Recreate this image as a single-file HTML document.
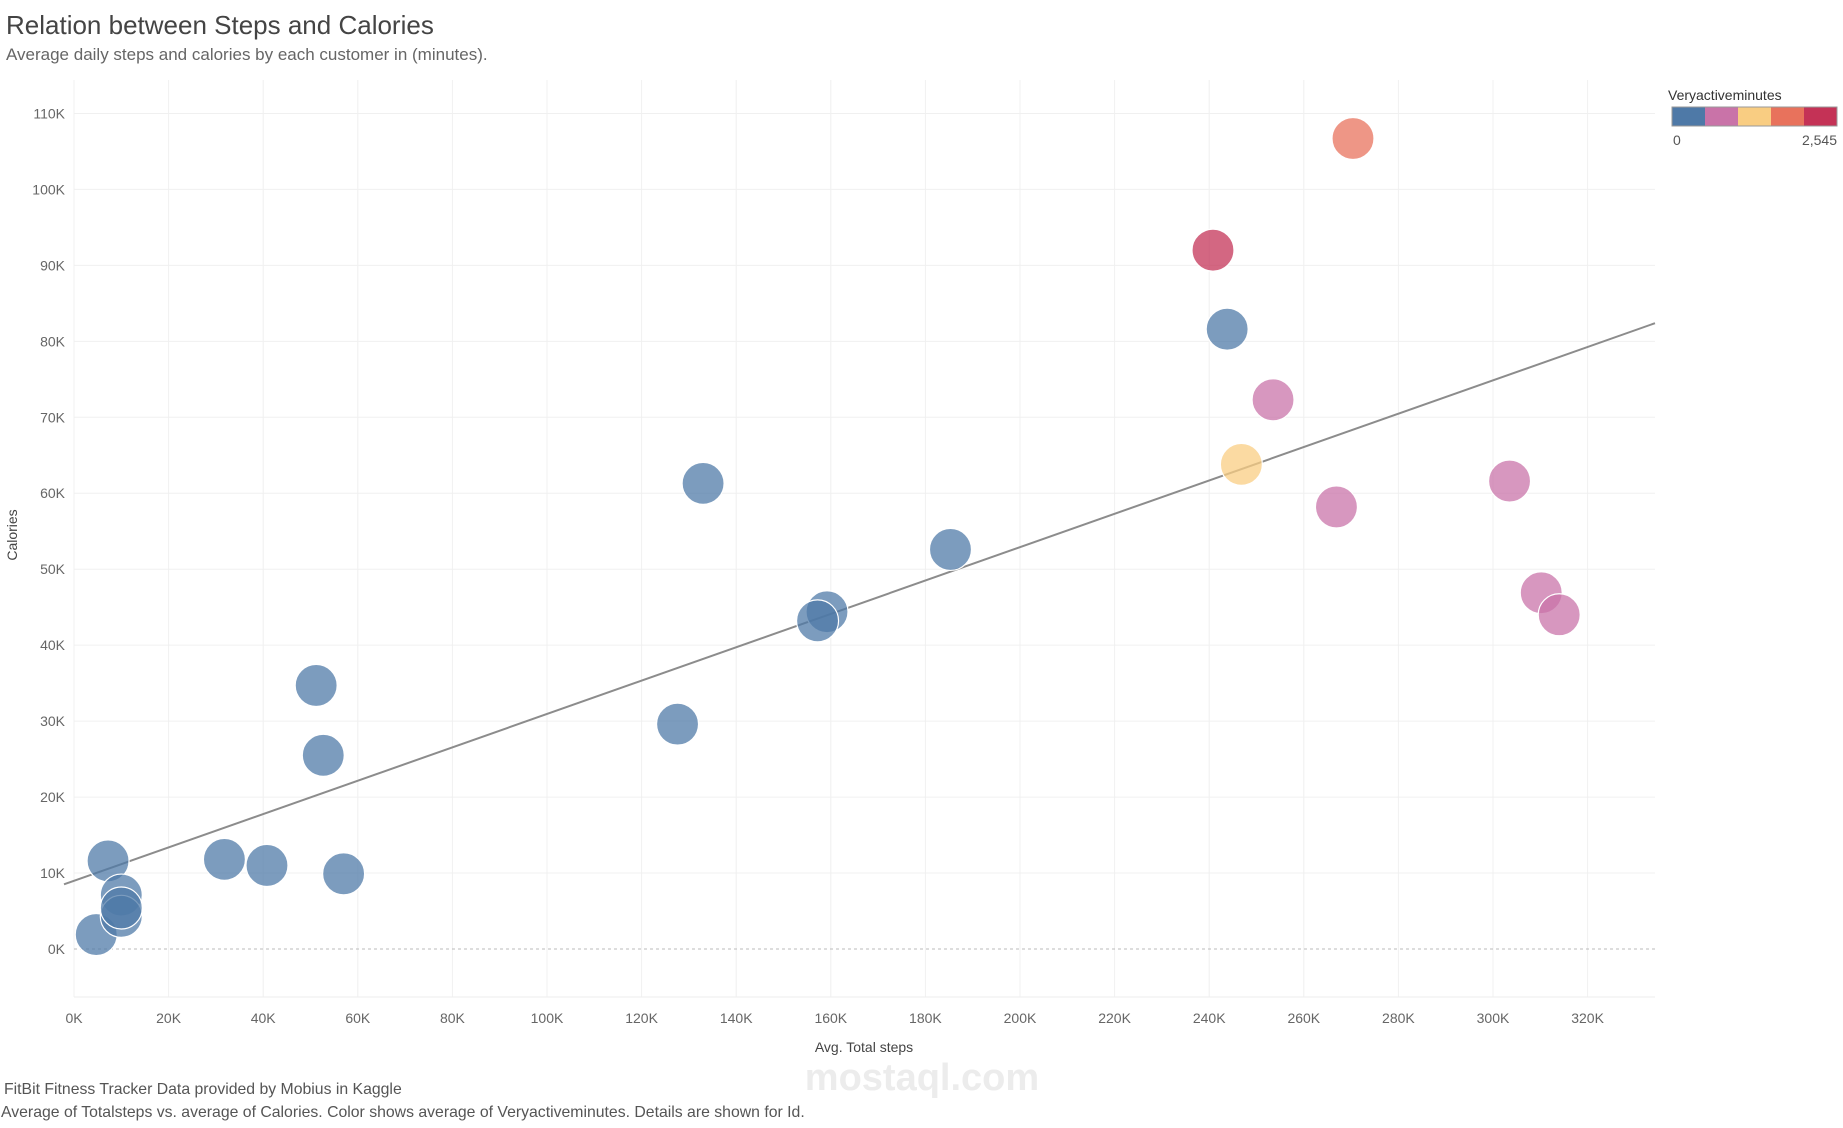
<!DOCTYPE html>
<html><head><meta charset="utf-8"><style>
body{margin:0;background:#fff;font-family:"Liberation Sans",sans-serif;}
svg text{font-family:"Liberation Sans",sans-serif;}
</style></head><body>
<svg id="chart" width="1843" height="1123" xmlns="http://www.w3.org/2000/svg">
<text x="6" y="34" font-size="26" fill="#444">Relation between Steps and Calories</text>
<text x="6" y="60" font-size="17" fill="#666">Average daily steps and calories by each customer in (minutes).</text>
<g id="grid"></g>
<g id="axes"></g>
<g id="marks"></g>
<text x="864" y="1052" font-size="14" fill="#444" text-anchor="middle">Avg. Total steps</text>
<text transform="translate(17,535) rotate(-90)" font-size="14" fill="#444" text-anchor="middle">Calories</text>
<text x="922" y="1090" font-size="38" font-weight="bold" fill="#ececec" text-anchor="middle">mostaql.com</text>
<text x="4" y="1094" font-size="15.8" fill="#555">FitBit Fitness Tracker Data provided by Mobius in Kaggle</text>
<text x="1" y="1117" font-size="15.8" fill="#555">Average of Totalsteps vs. average of Calories. Color shows average of Veryactiveminutes. Details are shown for Id.</text>
<g>
<text x="1668" y="100" font-size="14" fill="#333">Veryactiveminutes</text>
<rect x="1672" y="107" width="33" height="19" fill="#4e79a7"/>
<rect x="1705" y="107" width="33" height="19" fill="#c973a8"/>
<rect x="1738" y="107" width="33" height="19" fill="#f9cd82"/>
<rect x="1771" y="107" width="33" height="19" fill="#e8725c"/>
<rect x="1804" y="107" width="33" height="19" fill="#c43256"/>
<rect x="1672" y="107" width="165" height="19" fill="none" stroke="#999"/>
<text x="1673" y="145" font-size="14" fill="#555">0</text>
<text x="1837" y="145" font-size="14" fill="#555" text-anchor="end">2,545</text>
</g>
</svg>
<script>
const steps=[4700,7200,10000,10000,10000,31800,40800,51200,52700,57000,127600,133000,159200,157200,185300,240800,243800,270400,253500,246800,266900,303500,310200,314000];
const calories=[1900,11600,7100,4300,5400,11800,11000,34700,25500,9900,29600,61300,44400,43200,52600,92000,81600,106700,72300,63800,58200,61600,46900,44000];
const activeMinutes=[50,60,70,80,90,100,120,150,150,140,200,180,300,280,350,2545,400,2000,800,1400,700,750,800,780];
const xTicks=[0,20000,40000,60000,80000,100000,120000,140000,160000,180000,200000,220000,240000,260000,280000,300000,320000];
const yTicks=[0,10000,20000,30000,40000,50000,60000,70000,80000,90000,100000,110000];
const NS="http://www.w3.org/2000/svg";
const L=74,R=1655,T=80,B=997;
const X=v=>74+v*94.6/20000;
const Y=v=>949-v*75.96/10000;
const xMax=(R-74)*20000/94.6;
function mk(tag,attrs,parent){const e=document.createElementNS(NS,tag);for(const k in attrs)e.setAttribute(k,attrs[k]);parent.appendChild(e);return e;}
const grid=document.getElementById('grid'),axes=document.getElementById('axes'),marks=document.getElementById('marks');
xTicks.forEach(t=>{
 const l=mk('line',{x1:X(t),x2:X(t),y1:T,y2:B,stroke:'#f0f0f0','stroke-width':1},grid);
 
 
 const tx=mk('text',{x:X(t),y:1023,'font-size':14,fill:'#666','text-anchor':'middle'},axes);
 tx.textContent=(t/1000)+'K';
 
 
});
yTicks.forEach(t=>{
 const l=mk('line',{x1:L,x2:R,y1:Y(t),y2:Y(t),stroke:t===0?'#bbb':'#f0f0f0','stroke-width':1,'stroke-dasharray':t===0?'3,3':'none'},grid);
 
 
 const tx=mk('text',{x:65,y:Y(t)+5,'font-size':14,fill:'#666','text-anchor':'end'},axes);
 tx.textContent=(t/1000)+'K';
 
 
});
const bl=mk('line',{x1:L,x2:R,y1:B,y2:B,stroke:'#eee'},axes);


const n=steps.length;let sx=0,sy=0,sxx=0,sxy=0;
for(let i=0;i<n;i++){sx+=steps[i];sy+=calories[i];sxx+=steps[i]*steps[i];sxy+=steps[i]*calories[i];}
const m=(n*sxy-sx*sy)/(n*sxx-sx*sx),b=(sy-m*sx)/n;
const tl=mk('line',{x1:X(0)-10,y1:Y(b-m*10*20000/94.6),x2:R,y2:Y(b+m*xMax),stroke:'#8c8c8c','stroke-width':2},marks);


function color(v){
 if(v<509)return '#4e79a7';if(v<1018)return '#c973a8';if(v<1527)return '#f9cd82';if(v<2036)return '#e8725c';return '#c43256';}
for(let i=0;i<n;i++){
 const c=mk('circle',{cx:X(steps[i]),cy:Y(calories[i]),r:21,fill:color(activeMinutes[i]),'fill-opacity':0.74,stroke:'#fff','stroke-width':1.2},marks);
 
 
}
</script>
</body></html>
